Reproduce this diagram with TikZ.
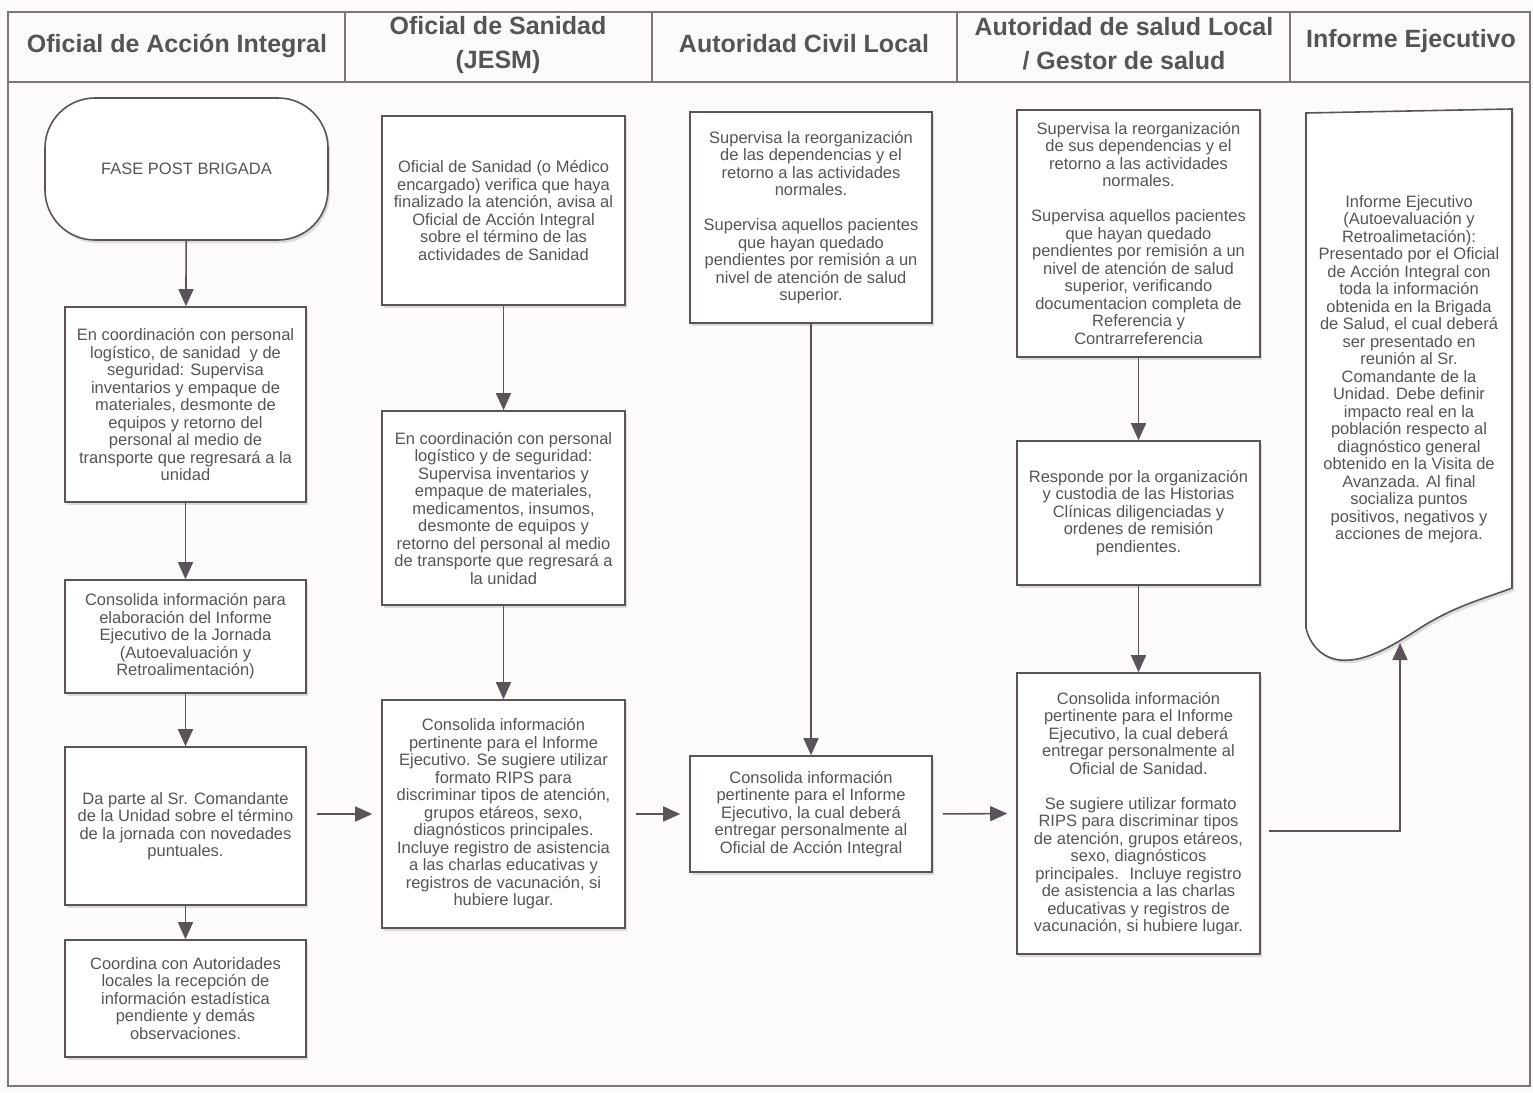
\documentclass[tikz,border=0pt]{standalone}
\usepackage{fontspec}
\setmainfont{Liberation Sans}
\usetikzlibrary{arrows.meta,shadows}
\definecolor{tinta}{HTML}{555555}
\definecolor{linea}{HTML}{5A545A}
\definecolor{marco}{HTML}{7A767A}
\definecolor{fondo}{HTML}{FCFAFB}

\tikzset{
  texto/.style={text=tinta, align=center, inner sep=0pt, font=\fontsize{16.5}{17.5}\selectfont},
  sombra/.style={drop shadow={shadow xshift=2pt, shadow yshift=-3pt, opacity=0.25}},
  paso/.style={texto, draw=linea, line width=1.6pt, fill=white, sombra},
  terminal/.style={paso, rounded corners=50pt},
  encabezado/.style={text=tinta, align=center, font=\bfseries\fontsize{25}{34}\selectfont},
  flecha/.style={->, draw=linea, line width=1.6pt},
  lateral/.style={flecha, shorten <=10pt, shorten >=9pt}
}

\begin{document}
\begin{tikzpicture}[x=1pt,y=-1pt,>={Triangle[length=17pt,width=15pt]}]
              \fill[fondo] (0,0) rectangle (1533,1092);
              % marco y encabezados
              \draw[marco, line width=1.4pt] (8,12) rectangle (1530,1086);
              \draw[marco, line width=1.4pt] (8,82) -- (1530,82);
              \foreach \xd in {345,652,957,1290}
                \draw[marco, line width=1.4pt] (\xd,12) -- (\xd,82);
              \node[encabezado] (h1) at (177,46) {Oficial de Acción Integral};
              \node[encabezado] (h2) at (498,45) {Oficial de Sanidad\\(JESM)};
              \node[encabezado] (h3) at (804,44) {Autoridad Civil Local};
              \node[encabezado] (h4) at (1124,44) {Autoridad de salud Local\\/ Gestor de salud};
              \node[encabezado] (h5) at (1411,41) {Informe Ejecutivo};

              % Oficial de Accion Integral
              \node[terminal, minimum width=283pt, minimum height=142pt] (inicio) at (186.5,169) {FASE POST BRIGADA};
              \node[paso, minimum width=241pt, minimum height=195pt] (oai1) at (185.5,404.5) {En coordinación con personal\\logístico, de sanidad~ y de\\seguridad: Supervisa\\inventarios y empaque de\\materiales, desmonte de\\equipos y retorno del\\personal al medio de\\transporte que regresará a la\\unidad};
              \node[paso, minimum width=241pt, minimum height=113pt] (oai2) at (185.5,636.5) {Consolida información para\\elaboración del Informe\\Ejecutivo de la Jornada\\(Autoevaluación y\\Retroalimentación)};
              \node[paso, minimum width=241pt, minimum height=158pt] (oai3) at (185.5,826) {Da parte al Sr. Comandante\\de la Unidad sobre el término\\de la jornada con novedades\\puntuales.};
              \node[paso, minimum width=241pt, minimum height=117pt] (oai4) at (185.5,998.5) {Coordina con Autoridades\\locales la recepción de\\información estadística\\pendiente y demás\\observaciones.};

              % Oficial de Sanidad
              \node[paso, minimum width=243pt, minimum height=189pt] (san1) at (503.5,210.5) {Oficial de Sanidad (o Médico\\encargado) verifica que haya\\finalizado la atención, avisa al\\Oficial de Acción Integral\\sobre el término de las\\actividades de Sanidad};
              \node[paso, minimum width=243pt, minimum height=194pt] (san2) at (503.5,508) {En coordinación con personal\\logístico y de seguridad:\\Supervisa inventarios y\\empaque de materiales,\\medicamentos, insumos,\\desmonte de equipos y\\retorno del personal al medio\\de transporte que regresará a\\la unidad};
              \node[paso, minimum width=243pt, minimum height=228pt] (san3) at (503.5,814) {Consolida información\\pertinente para el Informe\\Ejecutivo. Se sugiere utilizar\\formato RIPS para\\discriminar tipos de atención,\\grupos etáreos, sexo,\\diagnósticos principales.\\Incluye registro de asistencia\\a las charlas educativas y\\registros de vacunación, si\\hubiere lugar.};

              % Autoridad Civil Local
              \node[paso, minimum width=242pt, minimum height=211pt] (civ1) at (811,217.5) {Supervisa la reorganización\\de las dependencias y el\\retorno a las actividades\\normales.\\[17.5pt]Supervisa aquellos pacientes\\que hayan quedado\\pendientes por remisión a un\\nivel de atención de salud\\superior.};
              \node[paso, minimum width=242pt, minimum height=116pt] (civ2) at (811,814) {Consolida información\\pertinente para el Informe\\Ejecutivo, la cual deberá\\entregar personalmente al\\Oficial de Acción Integral};

              % Autoridad de salud Local
              \node[paso, minimum width=243pt, minimum height=247pt] (sal1) at (1138.5,233.5) {Supervisa la reorganización\\de sus dependencias y el\\retorno a las actividades\\normales.\\[17.5pt]Supervisa aquellos pacientes\\que hayan quedado\\pendientes por remisión a un\\nivel de atención de salud\\superior, verificando\\documentacion completa de\\Referencia y\\Contrarreferencia};
              \node[paso, minimum width=243pt, minimum height=144pt] (sal2) at (1138.5,513) {Responde por la organización\\y custodia de las Historias\\Clínicas diligenciadas y\\ordenes de remisión\\pendientes.};
              \node[paso, minimum width=243pt, minimum height=281pt] (sal3) at (1138.5,813.5) {Consolida información\\pertinente para el Informe\\Ejecutivo, la cual deberá\\entregar personalmente al\\Oficial de Sanidad.\\[17.5pt]~Se sugiere utilizar formato\\RIPS para discriminar tipos\\de atención, grupos etáreos,\\sexo, diagnósticos\\principales.~ Incluye registro\\de asistencia a las charlas\\educativas y registros de\\vacunación, si hubiere lugar.};

              % Informe Ejecutivo (documento)
              \draw[draw=linea, line width=1.6pt, fill=white, sombra]
                (1306,113) -- (1512,109) -- (1512,588)
                .. controls (1480,600) and (1455,606) .. (1420,628)
                .. controls (1385,651) and (1362,662) .. (1340,660)
                .. controls (1322,658) and (1310,645) .. (1306,628) -- cycle;
              \node[texto] (inf) at (1409,369) {Informe Ejecutivo\\(Autoevaluación y\\Retroalimetación):\\Presentado por el Oficial\\de Acción Integral con\\toda la información\\obtenida en la Brigada\\de Salud, el cual deberá\\ser presentado en\\reunión al Sr.\\Comandante de la\\Unidad. Debe definir\\impacto real en la\\población respecto al\\diagnóstico general\\obtenido en la Visita de\\Avanzada. Al final\\socializa puntos\\positivos, negativos y\\acciones de mejora.};
              \coordinate (infpie) at (1400,643);
              \coordinate (esq) at (1400,831);

              % flechas
              \draw[flecha] (inicio) -- (oai1);
              \draw[flecha] (oai1) -- (oai2);
              \draw[flecha] (oai2) -- (oai3);
              \draw[flecha] (oai3) -- (oai4);
              \draw[flecha] (san1) -- (san2);
              \draw[flecha] (san2) -- (san3);
              \draw[flecha] (civ1) -- (civ2);
              \draw[flecha] (sal1) -- (sal2);
              \draw[flecha] (sal2) -- (sal3);
              \draw[lateral] (oai3.east |- san3.west) -- (san3.west);
              \draw[lateral] (san3.east) -- (civ2.west);
              \draw[lateral] (civ2.east) -- (sal3.west);
              \draw[flecha, shorten <=8pt] (sal3.east |- esq) -- (esq) -- (infpie);
\end{tikzpicture}
\end{document}
